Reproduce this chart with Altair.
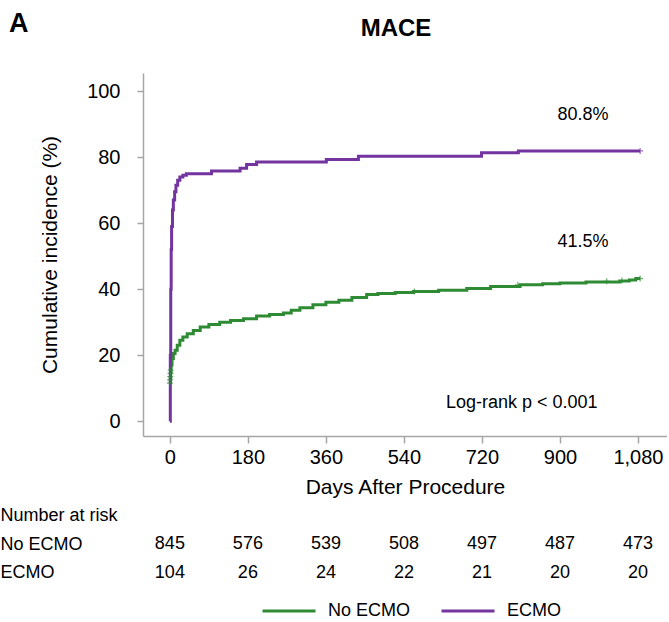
import altair as alt
import pandas as pd

FONT = "Liberation Sans"
GREEN = "#2E8B34"
PURPLE = "#7334A0"
AXIS_GRAY = "#A6A6A6"

groups = ["No ECMO", "ECMO"]

# ECMO cumulative incidence (step curve)
ecmo_days = [0, 1, 2, 3, 4, 6, 8, 11, 14, 18, 23, 30, 38, 96, 162, 177, 200, 361, 435, 719, 804, 1085]
ecmo_vals = [0, 20, 40, 52, 59, 64, 67, 69.5, 71.5, 73, 74, 74.5, 75, 75.8, 76.6, 77.8, 78.5, 79.3, 80.3, 81.3, 81.9, 81.9]

# No ECMO cumulative incidence (step curve)
noecmo_days = [0, 1, 2, 3, 5, 8, 12, 17, 23, 30, 40, 54, 70, 90, 115, 140, 170, 200, 230, 262,
               280, 300, 330, 360, 390, 420, 454, 480, 520, 562, 620, 685, 740, 808, 860, 900,
               960, 1038, 1060, 1075, 1085]
noecmo_vals = [11.5, 13, 15, 17, 19, 20.5, 21.5, 23, 24.5, 25.5, 26.5, 27.5, 28.5, 29.3, 30, 30.5, 31,
               31.9, 32.3, 32.8, 33.6, 34.4, 35.3, 36.0, 36.6, 37.5, 38.4, 38.7, 39.0, 39.3, 39.7,
               40.2, 40.8, 41.3, 41.6, 41.9, 42.2, 42.5, 42.8, 43.2, 43.2]

# censoring marks
cens_noecmo_days = [0, 0.5, 1, 1.5, 2, 564, 803, 1008, 1043, 1085]
cens_noecmo_vals = [11.5, 12.5, 13.5, 14.5, 15.5, 39.3, 41.3, 42.4, 42.6, 43.2]
cens_ecmo_days = [1085]
cens_ecmo_vals = [81.9]

# number at risk table
risk_days = [0, 180, 360, 540, 720, 900, 1080]
risk_noecmo = ["845", "576", "539", "508", "497", "487", "473"]
risk_ecmo = ["104", "26", "24", "22", "21", "20", "20"]
risk_rows = ["Number at risk", "No ECMO", "ECMO"]

# annotations
annot_text = ["80.8%", "41.5%", "Log-rank p < 0.001"]
annot_days = [953, 953, 812]
annot_vals = [92.7, 54.2, 5.5]

y_ticks = [0, 20, 40, 60, 80, 100]

curve_df = pd.concat([
    pd.DataFrame({"day": noecmo_days, "value": noecmo_vals, "group": "No ECMO"}),
    pd.DataFrame({"day": ecmo_days, "value": ecmo_vals, "group": "ECMO"}),
])
cens_df = pd.concat([
    pd.DataFrame({"day": cens_noecmo_days, "value": cens_noecmo_vals, "group": "No ECMO"}),
    pd.DataFrame({"day": cens_ecmo_days, "value": cens_ecmo_vals, "group": "ECMO"}),
])
annot_df = pd.DataFrame({"day": annot_days, "value": annot_vals, "label": annot_text})
risk_df = pd.concat([
    pd.DataFrame({"day": risk_days, "n": risk_noecmo, "row": "No ECMO"}),
    pd.DataFrame({"day": risk_days, "n": risk_ecmo, "row": "ECMO"}),
])

x_scale = alt.Scale(domain=[-62, 1147], nice=False, zero=False)
y_scale = alt.Scale(domain=[-4.5, 105.5], nice=False, zero=False)
color_scale = alt.Scale(domain=groups, range=[GREEN, PURPLE])

x_axis = alt.Axis(values=risk_days, format=",d", title="Days After Procedure",
                  labelFontSize=20, titleFontSize=21, titleFontWeight="normal",
                  grid=False, domainColor=AXIS_GRAY, tickColor=AXIS_GRAY, tickSize=7,
                  domainWidth=1.5, tickWidth=1.5, labelPadding=4, titlePadding=9,
                  labelColor="black", titleColor="black", labelFlush=False)
y_axis = alt.Axis(values=y_ticks, title="Cumulative incidence (%)",
                  labelFontSize=20, titleFontSize=21, titleFontWeight="normal",
                  grid=False, domainColor=AXIS_GRAY, tickColor=AXIS_GRAY, tickSize=6,
                  domainWidth=1.5, tickWidth=1.5, labelPadding=17, titlePadding=26,
                  labelColor="black", titleColor="black", labelFlush=False)

lines = alt.Chart(curve_df).mark_line(interpolate="step-after", strokeWidth=3).encode(
    x=alt.X("day:Q", scale=x_scale, axis=x_axis),
    y=alt.Y("value:Q", scale=y_scale, axis=y_axis),
    color=alt.Color("group:N", scale=color_scale, sort=groups,
                    legend=alt.Legend(title=None, orient="none", direction="horizontal",
                                      legendX=118, legendY=510,
                                      symbolType="stroke", symbolSize=2809,
                                      symbolStrokeWidth=3, labelFontSize=18,
                                      labelColor="black", labelOffset=11,
                                      columnPadding=24)),
)

cens = alt.Chart(cens_df).mark_point(shape="M-1,0L1,0M0,-1L0,1", filled=False,
                                      size=36, strokeWidth=1.2).encode(
    x=alt.X("day:Q", scale=x_scale),
    y=alt.Y("value:Q", scale=y_scale),
    color=alt.Color("group:N", scale=color_scale, legend=None),
)

annots = alt.Chart(annot_df).mark_text(fontSize=18, color="black").encode(
    x=alt.X("day:Q", scale=x_scale),
    y=alt.Y("value:Q", scale=y_scale),
    text="label:N",
)

main = alt.layer(lines, cens, annots).properties(
    width=524, height=363,
    title=alt.TitleParams("MACE", fontSize=24, fontWeight="bold", dx=-9, offset=32.5, color="black"),
)

risk = alt.Chart(risk_df).mark_text(fontSize=18, color="black").encode(
    x=alt.X("day:Q", scale=x_scale, axis=None),
    y=alt.Y("row:N", scale=alt.Scale(domain=risk_rows),
            axis=alt.Axis(title=None, domain=False, ticks=False, tickSize=0,
                          labelAlign="left", labelPadding=143, labelFontSize=18,
                          labelColor="black", labelLimit=300)),
    text="n:N",
).properties(width=524, height=86)

chart = alt.vconcat(main, risk, spacing=4).properties(
    title=alt.TitleParams("A", anchor="start", frame="bounds", fontSize=27,
                          fontWeight="bold", offset=-21.5, dx=9, color="black"),
    padding={"left": 0, "top": 10, "right": 0, "bottom": 0},
    background="white",
).configure(font=FONT).configure_view(stroke=None)

chart.save("out.html", embed_options={"renderer": "svg", "actions": False})
